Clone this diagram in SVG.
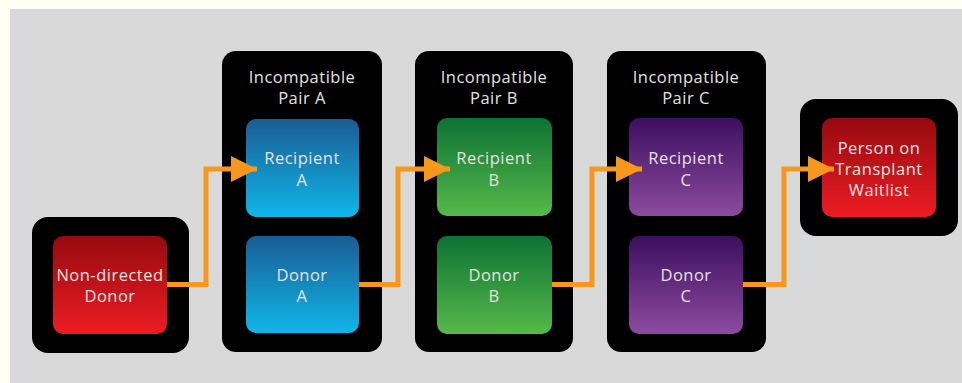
<svg xmlns="http://www.w3.org/2000/svg" width="962" height="383" viewBox="0 0 962 383">
<defs>
<linearGradient id="gRed" x1="0" y1="0" x2="0" y2="1"><stop offset="0" stop-color="#960a0f"/><stop offset="1" stop-color="#ed1c24"/></linearGradient>
<linearGradient id="gBlue" x1="0" y1="0" x2="0" y2="1"><stop offset="0" stop-color="#1a5c94"/><stop offset="1" stop-color="#10b6e8"/></linearGradient>
<linearGradient id="gGreen" x1="0" y1="0" x2="0" y2="1"><stop offset="0" stop-color="#0d7233"/><stop offset="1" stop-color="#56b94a"/></linearGradient>
<linearGradient id="gPurple" x1="0" y1="0" x2="0" y2="1"><stop offset="0" stop-color="#3d0f5e"/><stop offset="1" stop-color="#8c4b9e"/></linearGradient>
<marker id="arr" markerUnits="userSpaceOnUse" markerWidth="26" markerHeight="26" viewBox="0 0 24 24" refX="24" refY="12" orient="auto"><path d="M0,0 L24,12 L0,24 Z" fill="#f7981d"/></marker>
</defs>
<style>
.outer{fill:#000}
.t{font-family:"Open Sans","Liberation Sans",sans-serif;font-size:16.5px;fill:#e3e3e3;text-anchor:middle;letter-spacing:0.5px}
.c{fill:none;stroke:#f7981d;stroke-width:5;stroke-linejoin:miter}
</style>
<rect x="0" y="0" width="962" height="383" fill="#fffff3"/>
<rect x="10" y="9" width="952" height="374" fill="#d9d9d9"/>

<g id="nondirected">
<rect class="outer" x="32" y="217" width="157" height="136" rx="16"/>
<rect x="53" y="236" width="114" height="98" rx="10" fill="url(#gRed)"/>
<text class="t" x="110" y="281">Non-directed</text>
<text class="t" x="110" y="302">Donor</text>
</g>

<g id="pairA">
<rect class="outer" x="222" y="51" width="160" height="301" rx="14"/>
<text class="t" x="302" y="83">Incompatible</text>
<text class="t" x="302" y="104">Pair A</text>
<g id="recipientA">
<rect x="246" y="119" width="113" height="98" rx="10" fill="url(#gBlue)"/>
<text class="t" x="302" y="164">Recipient</text>
<text class="t" x="302" y="186">A</text>
</g>
<g id="donorA">
<rect x="246" y="236" width="113" height="97" rx="10" fill="url(#gBlue)"/>
<text class="t" x="302" y="281">Donor</text>
<text class="t" x="302" y="302">A</text>
</g>
</g>

<g id="pairB">
<rect class="outer" x="415" y="51" width="158" height="301" rx="14"/>
<text class="t" x="494" y="83">Incompatible</text>
<text class="t" x="494" y="104">Pair B</text>
<g id="recipientB">
<rect x="437" y="118" width="115" height="98" rx="10" fill="url(#gGreen)"/>
<text class="t" x="494" y="164">Recipient</text>
<text class="t" x="494" y="186">B</text>
</g>
<g id="donorB">
<rect x="437" y="236" width="115" height="98" rx="10" fill="url(#gGreen)"/>
<text class="t" x="494" y="281">Donor</text>
<text class="t" x="494" y="302">B</text>
</g>
</g>

<g id="pairC">
<rect class="outer" x="607" y="51" width="159" height="301" rx="14"/>
<text class="t" x="686" y="83">Incompatible</text>
<text class="t" x="686" y="104">Pair C</text>
<g id="recipientC">
<rect x="629" y="118" width="114" height="98" rx="10" fill="url(#gPurple)"/>
<text class="t" x="686" y="164">Recipient</text>
<text class="t" x="686" y="186">C</text>
</g>
<g id="donorC">
<rect x="629" y="236" width="114" height="98" rx="10" fill="url(#gPurple)"/>
<text class="t" x="686" y="281">Donor</text>
<text class="t" x="686" y="302">C</text>
</g>
</g>

<g id="waitlist">
<rect class="outer" x="800" y="99" width="158" height="137" rx="16"/>
<rect x="822" y="118" width="114" height="99" rx="10" fill="url(#gRed)"/>
<text class="t" x="879" y="154">Person on</text>
<text class="t" x="879" y="175">Transplant</text>
<text class="t" x="879" y="196">Waitlist</text>
</g>

<g id="connectors">
<path class="c" d="M167,284.5 H206 V169 H257" marker-end="url(#arr)"/>
<path class="c" d="M359,284.5 H398 V169 H450" marker-end="url(#arr)"/>
<path class="c" d="M552,284.5 H592 V169 H642" marker-end="url(#arr)"/>
<path class="c" d="M743,284.5 H784 V169 H834" marker-end="url(#arr)"/>
</g>
</svg>
